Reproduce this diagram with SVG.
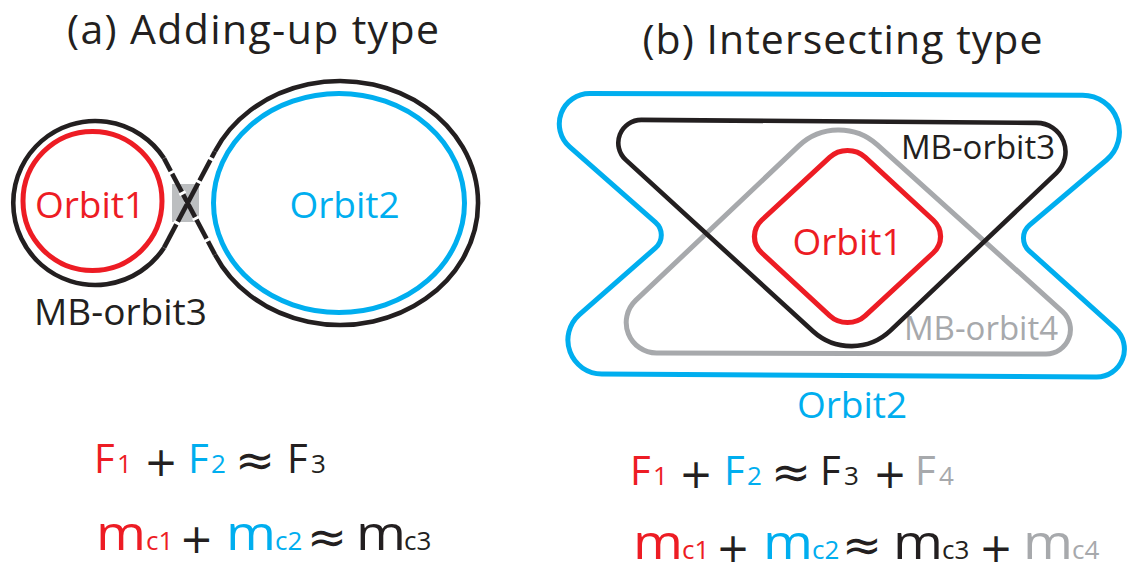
<svg xmlns="http://www.w3.org/2000/svg" width="1130" height="573" viewBox="0 0 1130 573">
<style>
text { font-family: "Open Sans", "Noto Sans", "DejaVu Sans", sans-serif; }
.t { font-size: 41px; fill: #231F20; }
.lbl { font-size: 37px; }
.lbs { font-size: 33px; }
.red { fill: #ED1C24; }
.blue { fill: #00AEEF; }
.blk { fill: #231F20; }
.gry { fill: #A7A9AC; }
.sr { fill: none; stroke: #ED1C24; stroke-width: 5; }
.sb { fill: none; stroke: #00AEEF; stroke-width: 5; }
.sk { fill: none; stroke: #231F20; stroke-width: 4.6; }
.sg { fill: none; stroke: #A7A9AC; stroke-width: 5; }
.tick { fill: none; stroke: #FFFFFF; stroke-width: 7; }
.eq { font-size: 40px; }
.m { font-size: 48px; }
.sub { font-size: 26px; }
.op { font-family: "DejaVu Sans", sans-serif; font-size: 40px; text-anchor: middle; fill: #231F20; }
.ap { font-family: "DejaVu Sans", sans-serif; font-size: 46px; text-anchor: middle; fill: #231F20; }
</style>

<!-- Panel (a) -->
<g id="a-title"><text class="t" x="253" y="44" text-anchor="middle" textLength="372">(a) Adding-up type</text></g>

<g id="a-orbit1">
<circle class="sr" cx="92.5" cy="201" r="69.5"/>
<text class="lbl red" x="90" y="218" text-anchor="middle">Orbit1</text>
</g>

<g id="a-orbit2">
<ellipse class="sb" cx="339" cy="203" rx="125.5" ry="109.5"/>
<text class="lbl blue" x="344.5" y="218" text-anchor="middle">Orbit2</text>
</g>

<g id="a-mb-orbit3">
<rect x="172" y="184" width="27" height="38" fill="#BCBEC0"/>
<path class="sk" d="M164,158.3 A82,82 0 1 0 164,247.7"/>
<path class="sk" d="M215,151.4 A138,122 0 1 1 215,254.6"/>
<path class="sk" d="M164,247.7 L215,151.4"/>
<path class="tick" d="M164,247.7 L215,151.4" stroke-dasharray="0 26.5 3 19.5 3 21 3 23 3 100"/>
<path class="sk" d="M215,254.6 L164,158.3"/>
<path class="tick" d="M215,254.6 L164,158.3" stroke-dasharray="0 15 3 21.5 3 25.5 3 20.5 3 100"/>
<text class="lbl blk" x="120.5" y="325" text-anchor="middle">MB-orbit3</text>
</g>

<g id="a-equations">
<text class="eq red" x="94" y="473">F</text>
<text class="sub red" x="117" y="473">1</text>
<text class="op" x="161" y="476">+</text>
<text class="eq blue" x="188" y="473">F</text>
<text class="sub blue" x="211" y="473">2</text>
<text class="ap" x="255" y="476" textLength="40" lengthAdjust="spacingAndGlyphs">≈</text>
<text class="eq blk" x="287" y="473">F</text>
<text class="sub blk" x="311" y="473">3</text>

<text class="m red" x="96" y="550" textLength="50" lengthAdjust="spacingAndGlyphs">m</text>
<text class="sub red" x="146" y="550">c1</text>
<text class="op" x="196.5" y="553">+</text>
<text class="m blue" x="226" y="550" textLength="50" lengthAdjust="spacingAndGlyphs">m</text>
<text class="sub blue" x="275" y="550">c2</text>
<text class="ap" x="327" y="553" textLength="40" lengthAdjust="spacingAndGlyphs">≈</text>
<text class="m blk" x="356" y="550" textLength="50" lengthAdjust="spacingAndGlyphs">m</text>
<text class="sub blk" x="404" y="550">c3</text>
</g>

<!-- Panel (b) -->
<g id="b-title"><text class="t" x="842.5" y="54" text-anchor="middle" textLength="400">(b) Intersecting type</text></g>

<g id="b-orbit2">
<path class="sb" d="M589.8,93.5 L1082.7,95.2 A36.8,36.8 0 0 1 1106.5,160 L1029.5,225.2 A17,17 0 0 0 1029.1,250.8 L1115.2,328.4 A27.9,27.9 0 0 1 1096.5,377 L601.8,374 A34,34 0 0 1 579.4,314.5 L655.5,247.9 A17,17 0 0 0 655.5,222.3 L569.7,146.8 A30.4,30.4 0 0 1 589.8,93.5 Z"/>
<text class="lbl blue" x="852" y="418" text-anchor="middle">Orbit2</text>
</g>

<g id="b-mb-orbit4">
<path class="sg" d="M877.4,144.9 L1062.5,311.6 A24.4,24.4 0 0 1 1046,354 L656.5,353 A30.5,30.5 0 0 1 635.7,300.4 L798.8,145.9 A58,58 0 0 1 877.4,144.9 Z"/>
<text class="lbs gry" x="981" y="340" text-anchor="middle">MB-orbit4</text>
</g>

<g id="b-mb-orbit3">
<path class="sk" d="M641.5,119.9 L1036.5,122.9 A29,29 0 0 1 1056.3,173.1 L890.4,330.6 A57,57 0 0 1 813,331.3 L625.8,159.9 A23,23 0 0 1 641.5,119.9 Z"/>
<text class="lbs blk" x="978" y="159" text-anchor="middle">MB-orbit3</text>
</g>

<g id="b-orbit1">
<rect class="sr" x="-70" y="-70" width="140" height="140" rx="24" transform="translate(847.5,236.5) scale(1.045,0.966) rotate(45)"/>
<text class="lbl red" x="847.5" y="255" text-anchor="middle">Orbit1</text>
</g>

<g id="b-equations">
<text class="eq red" x="630" y="485">F</text>
<text class="sub red" x="653" y="485">1</text>
<text class="op" x="696" y="488">+</text>
<text class="eq blue" x="724" y="485">F</text>
<text class="sub blue" x="747" y="485">2</text>
<text class="ap" x="791" y="488" textLength="40" lengthAdjust="spacingAndGlyphs">≈</text>
<text class="eq blk" x="820" y="485">F</text>
<text class="sub blk" x="844" y="485">3</text>
<text class="op" x="890" y="488">+</text>
<text class="eq gry" x="915" y="485">F</text>
<text class="sub gry" x="939" y="485">4</text>

<text class="m red" x="633" y="559" textLength="50" lengthAdjust="spacingAndGlyphs">m</text>
<text class="sub red" x="682" y="559">c1</text>
<text class="op" x="733" y="562">+</text>
<text class="m blue" x="763" y="559" textLength="50" lengthAdjust="spacingAndGlyphs">m</text>
<text class="sub blue" x="812" y="559">c2</text>
<text class="ap" x="862" y="561" textLength="40" lengthAdjust="spacingAndGlyphs">≈</text>
<text class="m blk" x="893" y="559" textLength="50" lengthAdjust="spacingAndGlyphs">m</text>
<text class="sub blk" x="942" y="559">c3</text>
<text class="op" x="996" y="562">+</text>
<text class="m gry" x="1023" y="559" textLength="50" lengthAdjust="spacingAndGlyphs">m</text>
<text class="sub gry" x="1072" y="559">c4</text>
</g>
</svg>
